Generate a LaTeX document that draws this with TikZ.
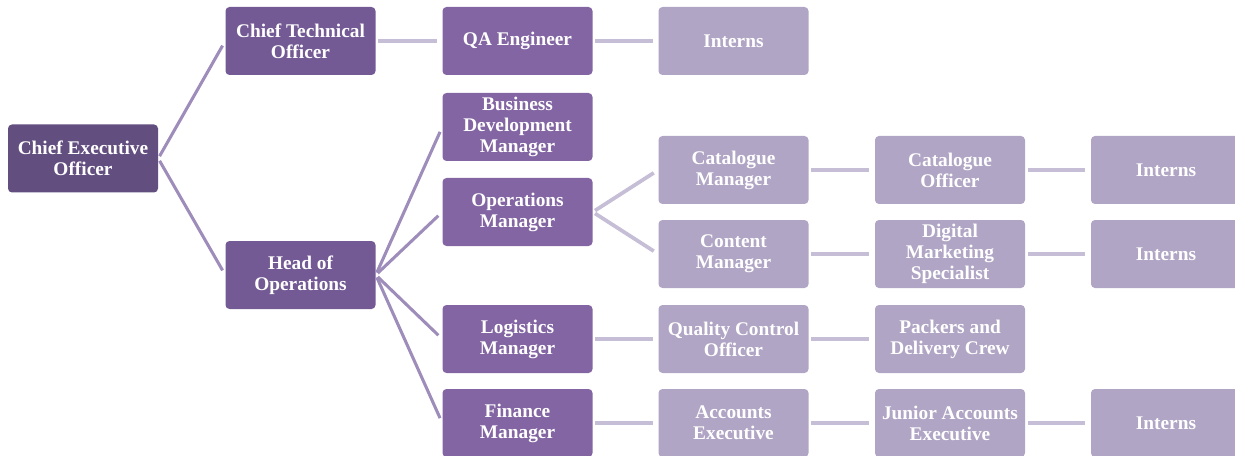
\documentclass[tikz,border=0pt]{standalone}
\usepackage{fontspec}
\setmainfont{Liberation Serif}
\usetikzlibrary{positioning,calc}
\definecolor{topc}{HTML}{634E80}
\definecolor{secc}{HTML}{735A94}
\definecolor{midc}{HTML}{8265A2}
\definecolor{lowc}{HTML}{B0A5C4}
\definecolor{linka}{HTML}{9E8DBA}
\definecolor{linkb}{HTML}{C6BDD6}

\begin{document}
\begin{tikzpicture}[x=0.75pt, y=-0.75pt, line join=round,
  box/.style={rounded corners=3pt, minimum width=112.5pt, minimum height=51pt,
    inner sep=1pt, align=center, text=white,
    font=\bfseries\fontsize{14.5}{15.8}\selectfont},
  lvla/.style={box, fill=topc},
  lvlb/.style={box, fill=secc},
  lvlc/.style={box, fill=midc},
  lvld/.style={box, fill=lowc},
  link/.style={line width=2.3pt, draw=linka, shorten <=2pt, shorten >=4pt},
  linkl/.style={link, line width=2.8pt, draw=linkb}]
\useasboundingbox (0,0) rectangle (1235,456);
\node[lvla] (ceo)  at (83,158.5)  {Chief Executive\\Officer};
\node[lvlb] (cto)  at (300.5,41)  {Chief Technical\\Officer};
\node[lvlb] (hoo)  at (300.5,275) {Head of\\Operations};
\node[lvlc] (qa)   at (517.5,41)  {QA Engineer};
\node[lvlc] (bdm)  at (517.5,127) {Business\\Development\\Manager};
\node[lvlc] (opm)  at (517.5,212) {Operations\\Manager};
\node[lvlc] (lgm)  at (517.5,339) {Logistics\\Manager};
\node[lvlc] (fin)  at (517.5,423) {Finance\\Manager};
\node[lvld] (intq) at (733.5,41)  {Interns};
\node[lvld] (catm) at (733.5,170) {Catalogue\\Manager};
\node[lvld] (conm) at (733.5,254) {Content\\Manager};
\node[lvld] (qco)  at (733.5,339) {Quality Control\\Officer};
\node[lvld] (acc)  at (733.5,423) {Accounts\\Executive};
\node[lvld] (cato) at (950,170)   {Catalogue\\Officer};
\node[lvld] (dms)  at (950,254)   {Digital\\Marketing\\Specialist};
\node[lvld] (pdc)  at (950,339)   {Packers and\\Delivery Crew};
\node[lvld] (jae)  at (950,423)   {Junior Accounts\\Executive};
\node[lvld] (intc) at (1166,170)  {Interns};
\node[lvld] (intd) at (1166,254)  {Interns};
\node[lvld] (intj) at (1166,423)  {Interns};
\draw[link] (ceo.east)--(cto.west);
\draw[link] (ceo.east)--(hoo.west);
\foreach \n in {bdm,opm,lgm,fin}
  \draw[link] (hoo.east)--(\n.west);
\draw[linkl] (cto.east)--(qa.west);
\draw[linkl] (qa.east)--(intq.west);
\draw[linkl] (opm.east)--(catm.west);
\draw[linkl] (opm.east)--(conm.west);
\draw[linkl] (catm.east)--(cato.west);
\draw[linkl] (conm.east)--(dms.west);
\draw[linkl] (lgm.east)--(qco.west);
\draw[linkl] (fin.east)--(acc.west);
\draw[linkl] (cato.east)--(intc.west);
\draw[linkl] (dms.east)--(intd.west);
\draw[linkl] (qco.east)--(pdc.west);
\draw[linkl] (acc.east)--(jae.west);
\draw[linkl] (jae.east)--(intj.west);
\end{tikzpicture}
\end{document}
